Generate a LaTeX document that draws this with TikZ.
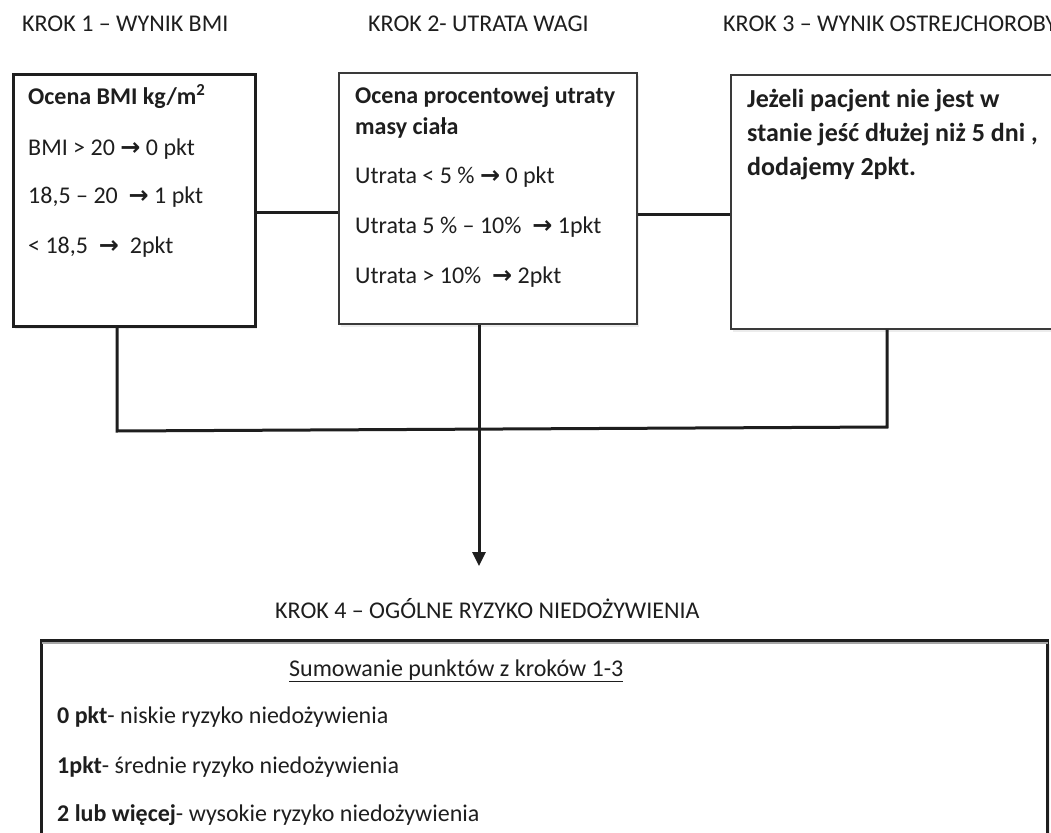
\documentclass[tikz,border=0pt]{standalone}
\usepackage{fontspec}
\setmainfont{Carlito}
\newfontfamily\arrowfont{DejaVu Sans}
\usetikzlibrary{shadows,arrows.meta}
\newcommand{\myarrow}{{\arrowfont\bfseries\char"2192}}
\definecolor{ink}{HTML}{1E1E1E}
\definecolor{edge}{HTML}{3A3A3A}
\tikzset{
  box/.style={draw=ink, fill=white, anchor=north west, inner sep=0pt,
    drop shadow={opacity=0.15, shadow xshift=2pt, shadow yshift=-3pt}},
  txt/.style={anchor=base west, inner sep=0pt, font=\fontsize{24}{29}\selectfont, text=ink},
  bigtxt/.style={anchor=base west, inner sep=0pt, font=\fontsize{26}{31}\selectfont\bfseries, text=ink},
  conn/.style={draw=ink, line width=3pt},
}
\begin{document}
\begin{tikzpicture}[x=1pt,y=-1pt]
\useasboundingbox (0,0) rectangle (1051,832);
\fill[white] (0,0) rectangle (1051,832);

% headers
\node[txt] (h1) at (22,32) {KROK 1 – WYNIK BMI};
\node[txt] (h2) at (368,32) {KROK 2- UTRATA WAGI};
\node[txt] (h3) at (723,32) {KROK 3 – WYNIK OSTREJCHOROBY};

% boxes
\node[box, line width=2.6pt, minimum width=242pt, minimum height=252pt] (b1) at (12,73) {};
\node[box, draw=edge, line width=1.6pt, minimum width=298pt, minimum height=251pt] (b2) at (338,72) {};
\node[box, draw=edge, line width=1.6pt, minimum width=340pt, minimum height=254pt] (b3) at (730,74) {};

% box 1 text
\node[txt] (t11) at (28,105) {\textbf{Ocena BMI kg/m\textsuperscript{2}}};
\node[txt] (t12) at (28,155) {BMI > 20 \myarrow{} 0 pkt};
\node[txt] (t13) at (28,203) {18,5 – 20 \ \myarrow{} 1 pkt};
\node[txt] (t14) at (28,253) {< 18,5 \ \myarrow{} \ 2pkt};

% box 2 text
\node[txt] (t21) at (355,103) {\textbf{Ocena procentowej utraty}};
\node[txt] (t22) at (355,134) {\textbf{masy ciała}};
\node[txt] (t23) at (355,183) {Utrata < 5 \% \myarrow{} 0 pkt};
\node[txt] (t24) at (355,233) {Utrata 5 \% – 10\% \ \myarrow{} 1pkt};
\node[txt] (t25) at (355,283) {Utrata > 10\% \ \myarrow{} 2pkt};

% box 3 text
\node[bigtxt] (t31) at (747,107) {Jeżeli pacjent nie jest w};
\node[bigtxt] (t32) at (747,142) {stanie jeść dłużej niż 5 dni ,};
\node[bigtxt] (t33) at (747,175) {dodajemy 2pkt.};

% connectors between boxes
\draw[conn] (b1.east |- 0,212) -- (b2.west |- 0,212);
\draw[conn] (b2.east |- 0,214) -- (b3.west |- 0,214);

\coordinate (j1) at (117,431);
\coordinate (j2) at (479,429);
\coordinate (j3) at (887,427);
\coordinate (tip) at (479,566);
\draw[conn] (b1.south -| j1) -- (j1) -- (j3) -- (b3.south -| j3);
\draw[conn, -{Triangle[width=13pt,length=14pt]}] (b2.south -| j2) -- (tip);

% step 4
\node[txt] (h4) at (275,618) {KROK 4 – OGÓLNE RYZYKO NIEDOŻYWIENIA};
\node[box, line width=3pt, minimum width=1006pt, minimum height=260pt, drop shadow={opacity=0}] (b4) at (40,639) {};
\draw[draw=gray!70, line width=1.2pt] ([xshift=1.5pt,yshift=-4pt]b4.north west) -- ([xshift=-1.5pt,yshift=-4pt]b4.north east);
\node[txt] (t41) at (289,676) {\underline{Sumowanie punktów z kroków 1-3}};
\node[txt] (t42) at (57,723) {\textbf{0 pkt}- niskie ryzyko niedożywienia};
\node[txt] (t43) at (57,773) {\textbf{1pkt}- średnie ryzyko niedożywienia};
\node[txt] (t44) at (57,821) {\textbf{2 lub więcej}- wysokie ryzyko niedożywienia};
\end{tikzpicture}
\end{document}
